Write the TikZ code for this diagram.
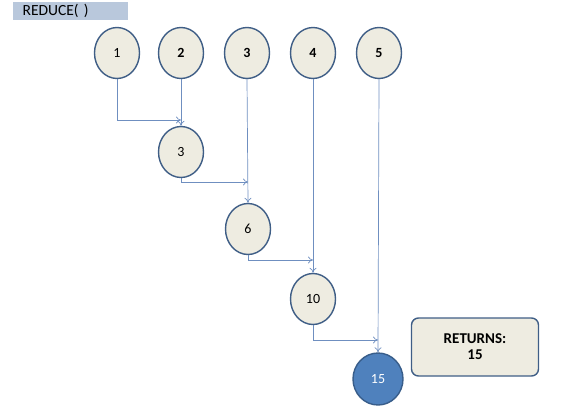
\documentclass[tikz,border=0pt]{standalone}
\usepackage{fontspec}
\setmainfont{Carlito}
\usetikzlibrary{arrows.meta,shapes.geometric}
\definecolor{nodefill}{HTML}{EEECE1}
\definecolor{nodeborder}{HTML}{3F5E86}
\definecolor{linkcol}{HTML}{6F8FC0}
\definecolor{titlefill}{HTML}{B9C8DC}
\definecolor{resfill}{HTML}{4F81BD}
\definecolor{resborder}{HTML}{385D8A}
\tikzset{
  num/.style={ellipse, draw=nodeborder, line width=1.4pt, fill=nodefill,
    minimum width=45pt, minimum height=51pt, inner sep=0pt, font=\fontsize{14}{14}\selectfont},
  link/.style={draw=linkcol, line width=0.7pt, -{To[length=5pt,width=7pt]}},
}
\begin{document}
\begin{tikzpicture}[x=1pt,y=-1pt]
\useasboundingbox (0,0) rectangle (561,409);
\node[fill=titlefill, minimum width=115pt, minimum height=18pt, inner sep=0pt, anchor=north west,
  text width=108pt, align=left, font=\fontsize{15.5}{15.5}\selectfont] (title) at (13,2) {\hspace*{6pt}REDUCE( )};
\node[num] (a1) at (117,53) {1};
\node[num] (a2) at (181,53) {\textbf{2}};
\node[num] (a3) at (247,53) {\textbf{3}};
\node[num] (a4) at (313,53) {\textbf{4}};
\node[num] (a5) at (379,53) {\textbf{5}};
\node[num] (b3) at (181,152) {3};
\node[num] (b6) at (248,229) {6};
\node[num] (b10) at (313,299) {10};
\node[num, fill=resfill, draw=resborder, text=white, minimum width=50pt, minimum height=52pt] (b15) at (378,379) {15};
\node[draw=nodeborder, line width=1.4pt, fill=nodefill, rounded corners=7pt, minimum width=127pt,
  minimum height=58pt, align=center, font=\bfseries\fontsize{15}{16}\selectfont] (ret) at (475,347) {RETURNS:\\15};
\coordinate (c1) at (117,120);
\coordinate (c1e) at (181,120);
\coordinate (c2) at (181,182);
\coordinate (c2e) at (248,182);
\coordinate (c3) at (248,260);
\coordinate (c3e) at (313,260);
\coordinate (c4) at (313,340);
\coordinate (c4e) at (378,340);
\draw[link] (a1.south) -- (c1) -- (c1e);
\draw[link] (a2.south) -- (b3.north);
\draw[link] (b3.south) -- (c2) -- (c2e);
\draw[link] (a3.south) -- (b6.north);
\draw[link] (b6.south) -- (c3) -- (c3e);
\draw[link] (a4.south) -- (b10.north);
\draw[link] (b10.south) -- (c4) -- (c4e);
\draw[link] (a5.south) -- (b15.north);
\end{tikzpicture}
\end{document}
